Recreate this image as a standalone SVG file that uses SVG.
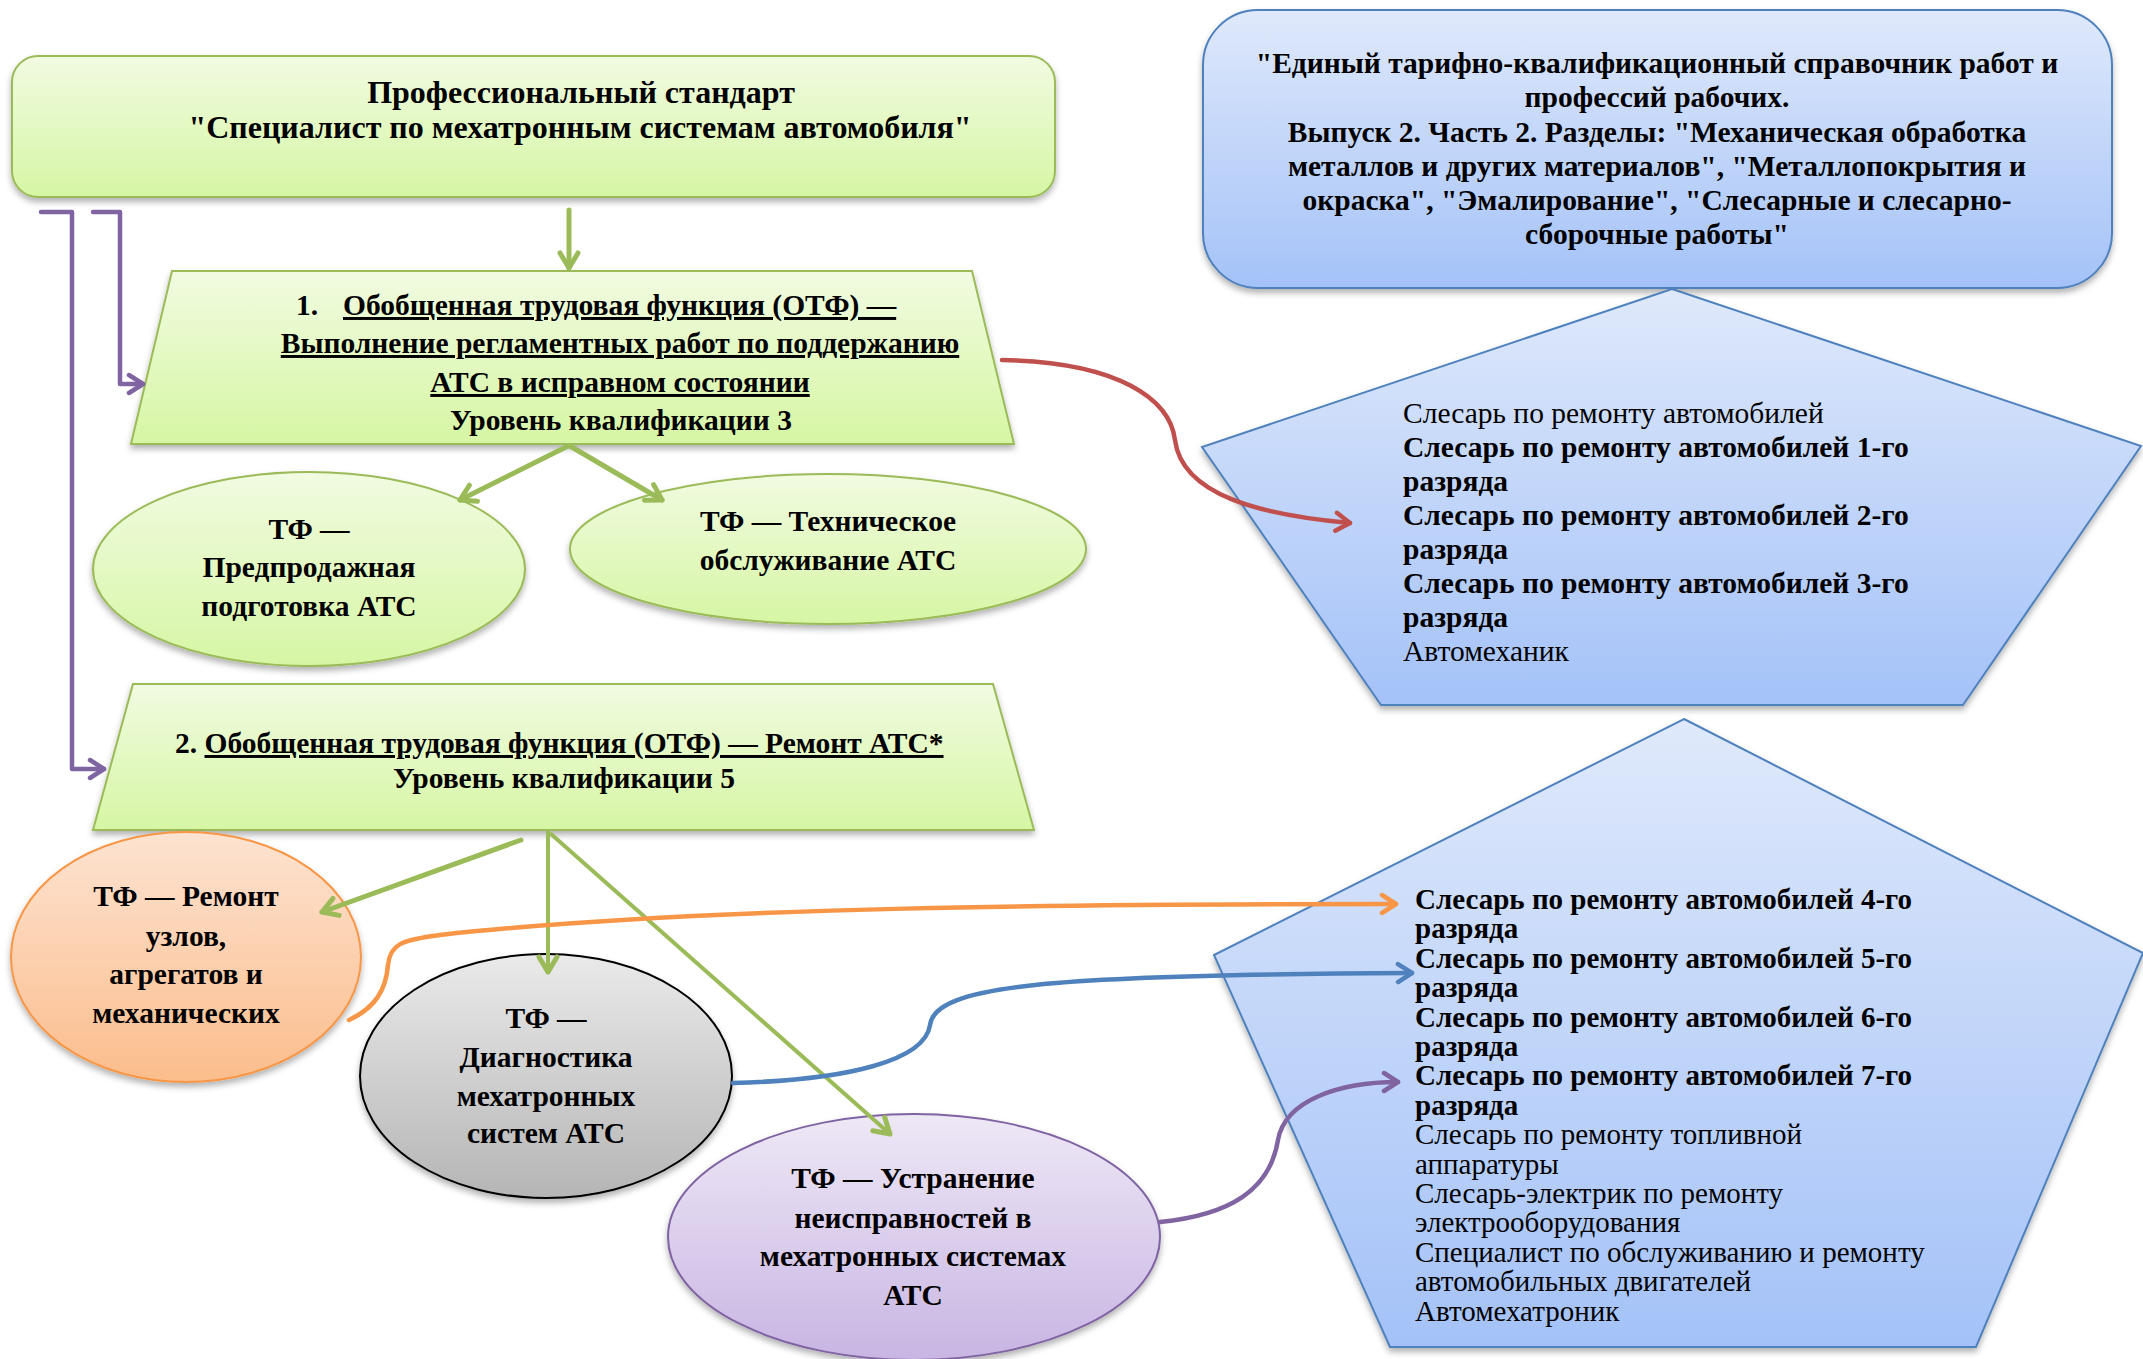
<svg xmlns="http://www.w3.org/2000/svg" width="2143" height="1359" viewBox="0 0 2143 1359">
<defs>
<style>
.t{font-family:"Liberation Serif","Times New Roman",serif;fill:#000}
.b{font-weight:bold}
.c{text-anchor:middle}
.u{text-decoration:underline}
.gs{stroke:#9bbb59;stroke-width:2}
.bs{stroke:#4f81bd;stroke-width:2}
.con{fill:none;stroke-linecap:round;stroke-linejoin:round}
</style>
<linearGradient id="gG" x1="0" y1="0" x2="0" y2="1"><stop offset="0" stop-color="#f1fbe1"/><stop offset="1" stop-color="#d6f6a4"/></linearGradient>
<linearGradient id="gB" x1="0" y1="0" x2="0" y2="1"><stop offset="0" stop-color="#dfe9fb"/><stop offset="1" stop-color="#a4c2f8"/></linearGradient>
<linearGradient id="gO" x1="0" y1="0" x2="0" y2="1"><stop offset="0" stop-color="#fde3d1"/><stop offset="1" stop-color="#fbbd8c"/></linearGradient>
<linearGradient id="gK" x1="0" y1="0" x2="0" y2="1"><stop offset="0" stop-color="#eaeaea"/><stop offset="1" stop-color="#b5b5b5"/></linearGradient>
<linearGradient id="gP" x1="0" y1="0" x2="0" y2="1"><stop offset="0" stop-color="#eee8f6"/><stop offset="1" stop-color="#c8b5e3"/></linearGradient>
<filter id="sh" x="-10%" y="-10%" width="120%" height="130%"><feDropShadow dx="0" dy="4" stdDeviation="3" flood-color="#000" flood-opacity="0.3"/></filter>
<marker id="aG" viewBox="0 0 24 24" refX="20" refY="12" markerWidth="24" markerHeight="24" markerUnits="userSpaceOnUse" orient="auto"><path d="M5,3 L20,12 L5,21" fill="none" stroke="#9bbb59" stroke-width="5" stroke-linecap="round" stroke-linejoin="round"/></marker>
<marker id="aP" viewBox="0 0 24 24" refX="20" refY="12" markerWidth="24" markerHeight="24" markerUnits="userSpaceOnUse" orient="auto"><path d="M6,3 L20,12 L6,21" fill="none" stroke="#8064a2" stroke-width="4.5" stroke-linecap="round" stroke-linejoin="round"/></marker>
<marker id="aR" viewBox="0 0 24 24" refX="20" refY="12" markerWidth="24" markerHeight="24" markerUnits="userSpaceOnUse" orient="auto"><path d="M6,3 L20,12 L6,21" fill="none" stroke="#c0504d" stroke-width="4.5" stroke-linecap="round" stroke-linejoin="round"/></marker>
<marker id="aO" viewBox="0 0 24 24" refX="20" refY="12" markerWidth="24" markerHeight="24" markerUnits="userSpaceOnUse" orient="auto"><path d="M6,3 L20,12 L6,21" fill="none" stroke="#f79646" stroke-width="4.5" stroke-linecap="round" stroke-linejoin="round"/></marker>
<marker id="aB" viewBox="0 0 24 24" refX="20" refY="12" markerWidth="24" markerHeight="24" markerUnits="userSpaceOnUse" orient="auto"><path d="M6,3 L20,12 L6,21" fill="none" stroke="#4f81bd" stroke-width="4.5" stroke-linecap="round" stroke-linejoin="round"/></marker>
</defs>
<rect width="2143" height="1359" fill="#fff"/>

<g id="standard">
<rect x="12" y="56" width="1043" height="141" rx="26" fill="url(#gG)" class="gs" filter="url(#sh)"/>
<text class="t b c" x="581" y="103" font-size="32">Профессиональный стандарт</text>
<text class="t b c" x="580" y="138" font-size="32">"Специалист по мехатронным системам автомобиля"</text>
</g>

<g id="etks">
<rect x="1203" y="10" width="909" height="278" rx="55" fill="url(#gB)" class="bs" filter="url(#sh)"/>
<g class="t b c" font-size="29.5">
<text x="1657" y="73">"Единый тарифно-квалификационный справочник работ и</text>
<text x="1657" y="107">профессий рабочих.</text>
<text x="1657" y="142">Выпуск 2. Часть 2. Разделы: "Механическая обработка</text>
<text x="1657" y="176">металлов и других материалов", "Металлопокрытия и</text>
<text x="1657" y="210">окраска", "Эмалирование", "Слесарные и слесарно-</text>
<text x="1657" y="244">сборочные работы"</text>
</g>
</g>

<g id="otf1">
<polygon points="172,271 972,271 1014,444 131,444" fill="url(#gG)" class="gs" filter="url(#sh)"/>
<g class="t b" font-size="29.5">
<text x="296" y="315">1.</text>
<text x="343" y="315" class="u">Обобщенная трудовая функция (ОТФ) —</text>
<text x="620" y="353" class="c u">Выполнение регламентных работ по поддержанию</text>
<text x="620" y="392" class="c u">АТС в исправном состоянии</text>
<text x="621" y="430" class="c">Уровень квалификации 3</text>
</g>
</g>

<g id="tf-predprodazh">
<ellipse cx="309" cy="569" rx="216" ry="97" fill="url(#gG)" class="gs" filter="url(#sh)"/>
<g class="t b c" font-size="29.5">
<text x="309" y="539">ТФ —</text>
<text x="309" y="577">Предпродажная</text>
<text x="309" y="616">подготовка АТС</text>
</g>
</g>

<g id="tf-to">
<ellipse cx="828" cy="549" rx="258" ry="75" fill="url(#gG)" class="gs" filter="url(#sh)"/>
<g class="t b c" font-size="29.5">
<text x="828" y="531">ТФ — Техническое</text>
<text x="828" y="570">обслуживание АТС</text>
</g>
</g>

<g id="otf2">
<polygon points="133,684 993,684 1034,830 93,830" fill="url(#gG)" class="gs" filter="url(#sh)"/>
<g class="t b" font-size="29.5">
<text x="175" y="753">2. <tspan class="u">Обобщенная трудовая функция (ОТФ) — Ремонт АТС*</tspan></text>
<text x="564" y="788" class="c">Уровень квалификации 5</text>
</g>
</g>

<g id="tf-remont">
<ellipse cx="186" cy="957" rx="175" ry="125" fill="url(#gO)" stroke="#f79646" stroke-width="2" filter="url(#sh)"/>
<g class="t b c" font-size="29.5">
<text x="186" y="906">ТФ — Ремонт</text>
<text x="186" y="946">узлов,</text>
<text x="186" y="984">агрегатов и</text>
<text x="186" y="1023">механических</text>
</g>
</g>

<g id="tf-diag">
<ellipse cx="546" cy="1076" rx="186" ry="122" fill="url(#gK)" stroke="#000" stroke-width="2" filter="url(#sh)"/>
<g class="t b c" font-size="29.5">
<text x="546" y="1028">ТФ —</text>
<text x="546" y="1067">Диагностика</text>
<text x="546" y="1106">мехатронных</text>
<text x="546" y="1143">систем АТС</text>
</g>
</g>

<g id="tf-ustr">
<ellipse cx="914" cy="1237" rx="246" ry="123" fill="url(#gP)" stroke="#8064a2" stroke-width="2" filter="url(#sh)"/>
<g class="t b c" font-size="29.5">
<text x="913" y="1188">ТФ — Устранение</text>
<text x="913" y="1228">неисправностей в</text>
<text x="913" y="1266">мехатронных системах</text>
<text x="913" y="1305">АТС</text>
</g>
</g>

<g id="prof1">
<polygon points="1672,289 2141,446 1963,705 1381,705 1202,447" fill="url(#gB)" class="bs" filter="url(#sh)"/>
<g class="t" font-size="29.5">
<text x="1403" y="423">Слесарь по ремонту автомобилей</text>
<text x="1403" y="457" class="b">Слесарь по ремонту автомобилей 1-го</text>
<text x="1403" y="491" class="b">разряда</text>
<text x="1403" y="525" class="b">Слесарь по ремонту автомобилей 2-го</text>
<text x="1403" y="559" class="b">разряда</text>
<text x="1403" y="593" class="b">Слесарь по ремонту автомобилей 3-го</text>
<text x="1403" y="627" class="b">разряда</text>
<text x="1403" y="661">Автомеханик</text>
</g>
</g>

<g id="prof2">
<polygon points="1684,719 2143,953 1976,1347 1390,1347 1214,955" fill="url(#gB)" class="bs" filter="url(#sh)"/>
<g class="t" font-size="29">
<text x="1415" y="909" class="b">Слесарь по ремонту автомобилей 4-го</text>
<text x="1415" y="938" class="b">разряда</text>
<text x="1415" y="968" class="b">Слесарь по ремонту автомобилей 5-го</text>
<text x="1415" y="997" class="b">разряда</text>
<text x="1415" y="1027" class="b">Слесарь по ремонту автомобилей 6-го</text>
<text x="1415" y="1056" class="b">разряда</text>
<text x="1415" y="1085" class="b">Слесарь по ремонту автомобилей 7-го</text>
<text x="1415" y="1115" class="b">разряда</text>
<text x="1415" y="1144">Слесарь по ремонту топливной</text>
<text x="1415" y="1174">аппаратуры</text>
<text x="1415" y="1203">Слесарь-электрик по ремонту</text>
<text x="1415" y="1232">электрооборудования</text>
<text x="1415" y="1262">Специалист по обслуживанию и ремонту</text>
<text x="1415" y="1291">автомобильных двигателей</text>
<text x="1415" y="1321">Автомехатроник</text>
</g>
</g>

<g id="connectors" class="con">
<path d="M569,210 L569,268" stroke="#9bbb59" stroke-width="5" marker-end="url(#aG)"/>
<path d="M568,446 L460,500" stroke="#9bbb59" stroke-width="5" marker-end="url(#aG)"/>
<path d="M570,446 L662,500" stroke="#9bbb59" stroke-width="5" marker-end="url(#aG)"/>
<path d="M521,840 L322,912" stroke="#9bbb59" stroke-width="5" marker-end="url(#aG)"/>
<path d="M548,832 L548,972" stroke="#9bbb59" stroke-width="4" marker-end="url(#aG)"/>
<path d="M551,834 L890,1134" stroke="#9bbb59" stroke-width="4" marker-end="url(#aG)"/>
<path d="M41,212 L72,212 L72,769 L104,769" stroke="#8064a2" stroke-width="4.5" marker-end="url(#aP)"/>
<path d="M93,212 L120,212 L120,384 L143,384" stroke="#8064a2" stroke-width="4.5" marker-end="url(#aP)"/>
<path d="M1002,360 C1120,362 1170,400 1175,440 C1182,495 1260,515 1350,523" stroke="#c0504d" stroke-width="4.5" marker-end="url(#aR)"/>
<path d="M349,1020 C375,1008 386,990 388,965 C390,945 400,940 440,935 C700,906 1100,904 1396,904" stroke="#f79646" stroke-width="4.5" marker-end="url(#aO)"/>
<path d="M733,1083 C850,1080 925,1060 930,1025 C935,985 1050,975 1412,973" stroke="#4f81bd" stroke-width="4.5" marker-end="url(#aB)"/>
<path d="M1160,1222 C1230,1215 1270,1190 1278,1140 C1285,1100 1340,1082 1398,1082" stroke="#8064a2" stroke-width="4.5" marker-end="url(#aP)"/>
</g>
</svg>
